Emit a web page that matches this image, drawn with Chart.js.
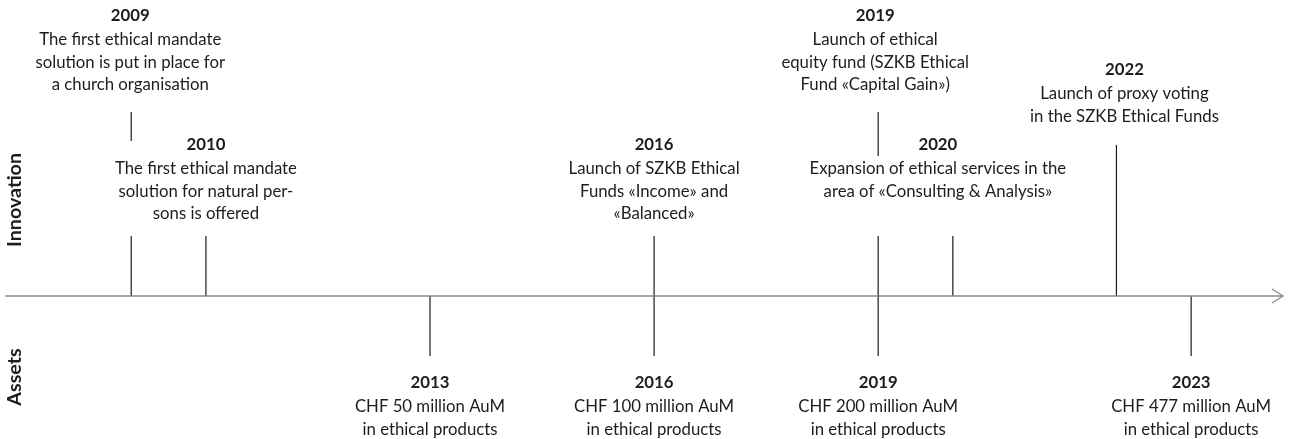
<!DOCTYPE html>
<html><head><meta charset="utf-8">
<script src="https://cdn.jsdelivr.net/npm/chart.js@4/dist/chart.umd.min.js"></script>
<style>html,body{margin:0;padding:0;background:#fff}#wrap{width:1290px;height:439px}</style>
</head><body><div id="wrap"><canvas id="c" width="1290" height="439"></canvas></div>
<script>
// ---- data ----
const innovationYears = ['2009', '2010', '2016', '2019', '2020', '2022'];
const innovationPos = [2009, 2010, 2016, 2019, 2020, 2022.19];
const innovationStemTop = [60, 60, 60, 60, 60, 151];
const innovationUpperStem = [[155, 184], null, null, [140, 184], null, null];
const innovationTexts = [
  ['The first ethical mandate', 'solution is put in place for', 'a church organisation'],
  ['The first ethical mandate', 'solution for natural per-', 'sons is offered'],
  ['Launch of SZKB Ethical', 'Funds «Income» and', '«Balanced»'],
  ['Launch of ethical', 'equity fund (SZKB Ethical', 'Fund «Capital Gain»)'],
  ['Expansion of ethical services in the', 'area of «Consulting & Analysis»'],
  ['Launch of proxy voting', 'in the SZKB Ethical Funds']
];
const assetYears = ['2013', '2016', '2019', '2023'];
const assetPos = [2013, 2016, 2019, 2023.19];
const assetStemBottom = [-60, -60, -60, -60];
const assetTexts = [
  ['CHF 50 million AuM', 'in ethical products'],
  ['CHF 100 million AuM', 'in ethical products'],
  ['CHF 200 million AuM', 'in ethical products'],
  ['CHF 477 million AuM', 'in ethical products']
];
const timelineStart = 2007.31, timelineEnd = 2024.42;
const sideTitles = ['Innovation', 'Assets'];

// ---- layout / style ----
const innovationLabelTop = [280, 151, 151, 280, 151, 226]; // y value of year label
const innovationLabelShift = [-1, 0, 0, -3, -15, 8];      // px
const assetLabelTop = -87;
const FONT = 'Lato';
const INK = '#1d1d1b';
const STEM = '#1a1a1a';
const AXIS = '#8a8a8a';

function seg(x1, y1, x2, y2, color, w) {
  return { data: [{x: x1, y: y1}, {x: x2, y: y2}], borderColor: color, borderWidth: w,
           pointRadius: 0, showLine: true, fill: false, tension: 0 };
}

Promise.all([
  document.fonts.load('16px ' + FONT),
  document.fonts.load('bold 16px ' + FONT)
]).catch(()=>{}).then(() => {
  const ctx0 = document.getElementById('c').getContext('2d');
  ctx0.font = '16px ' + FONT;
  const fs = 16 * 182 / ctx0.measureText('The first ethical mandate').width;
  ctx0.font = 'bold 16px ' + FONT;
  const ts = 16 * 94 / ctx0.measureText(sideTitles[0]).width;

  const datasets = [];
  datasets.push(seg(timelineStart, 0, timelineEnd, 0, AXIS, 1.5));
  innovationPos.forEach((p, i) => {
    datasets.push(seg(p, 0, p, innovationStemTop[i], STEM, 1.2));
    if (innovationUpperStem[i]) datasets.push(seg(p, innovationUpperStem[i][0], p, innovationUpperStem[i][1], STEM, 1.2));
  });
  assetPos.forEach((p, i) => datasets.push(seg(p, 0, p, assetStemBottom[i], STEM, 1.2)));

  const textPlugin = {
    id: 'texts',
    afterDraw(chart) {
      const c = chart.ctx, xs = chart.scales.x, ys = chart.scales.y;
      c.save();
      // arrow head
      const ex = xs.getPixelForValue(timelineEnd), ey = ys.getPixelForValue(0);
      c.strokeStyle = AXIS; c.lineWidth = 1.3;
      c.beginPath(); c.moveTo(ex - 11, ey - 7); c.lineTo(ex, ey); c.lineTo(ex - 11, ey + 7); c.stroke();

      c.fillStyle = INK; c.textAlign = 'center'; c.textBaseline = 'middle';
      const drawBlock = (cx, cy, year, lines) => {
        c.font = 'bold ' + fs.toFixed(2) + 'px ' + FONT;
        c.fillText(year, cx, cy);
        c.font = fs.toFixed(2) + 'px ' + FONT;
        lines.forEach((l, j) => c.fillText(l, cx, cy + 24 + j * 22.5));
      };
      innovationPos.forEach((p, i) => {
        drawBlock(xs.getPixelForValue(p) + innovationLabelShift[i], ys.getPixelForValue(innovationLabelTop[i]),
                  innovationYears[i], innovationTexts[i]);
      });
      assetPos.forEach((p, i) => {
        drawBlock(xs.getPixelForValue(p), ys.getPixelForValue(assetLabelTop), assetYears[i], assetTexts[i]);
      });
      // side titles
      c.font = 'bold ' + ts.toFixed(2) + 'px ' + FONT;
      [[sideTitles[0], 200], [sideTitles[1], 377]].forEach(([t, y]) => {
        c.save(); c.translate(15, y); c.rotate(-Math.PI / 2); c.fillText(t, 0, 0); c.restore();
      });
      c.restore();
    }
  };

  new Chart(document.getElementById('c'), {
    type: 'scatter',
    data: { datasets },
    options: {
      responsive: false, animation: false, devicePixelRatio: 1,
      layout: { padding: { left: 5, right: 7, top: 0, bottom: 0 } },
      plugins: { legend: { display: false }, tooltip: { enabled: false } },
      scales: {
        x: { type: 'linear', min: timelineStart, max: timelineEnd, display: false },
        y: { type: 'linear', min: -143, max: 296, display: false }
      }
    },
    plugins: [textPlugin]
  });
});
</script></body></html>
